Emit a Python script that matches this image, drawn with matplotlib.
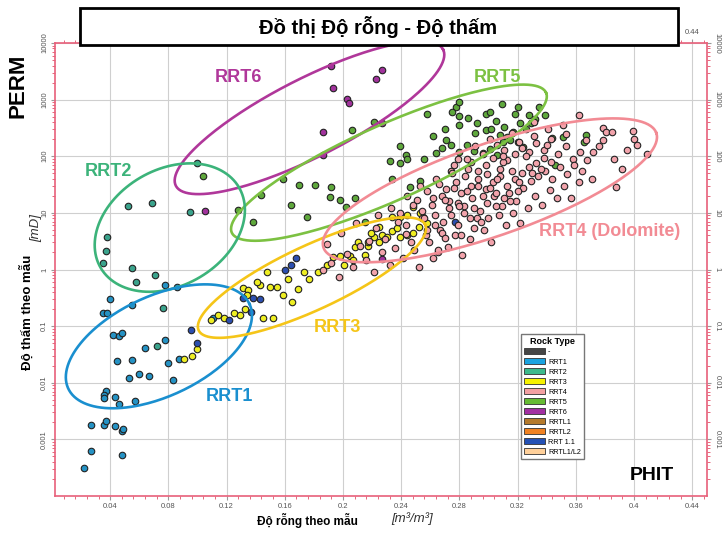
import numpy as np
import matplotlib
matplotlib.use("Agg")
import matplotlib.pyplot as plt
from matplotlib.patches import Patch, Rectangle
from matplotlib.ticker import AutoMinorLocator, LogLocator, NullFormatter

plt.rcParams['font.family'] = ['Liberation Sans', 'DejaVu Sans']

# ---- data (porosity fraction, permeability mD) ----
rrt1_phi = [0.040, 0.035, 0.038, 0.055, 0.042, 0.046, 0.048, 0.064, 0.078, 0.045, 0.055, 0.053,
            0.060, 0.067, 0.080, 0.087, 0.083, 0.037, 0.036, 0.036, 0.043, 0.046, 0.057, 0.027,
            0.036, 0.037, 0.043, 0.048, 0.049, 0.027, 0.048, 0.022, 0.111, 0.086, 0.078]
rrt1_k = [0.30, 0.17, 0.17, 0.24, 0.071, 0.066, 0.077, 0.041, 0.056, 0.024, 0.025, 0.012,
          0.014, 0.013, 0.022, 0.026, 0.011, 0.0071, 0.0062, 0.0053, 0.0057, 0.0042, 0.0047, 0.0018,
          0.0018, 0.0021, 0.0017, 0.0014, 0.0015, 0.00062, 0.00053, 0.00031, 0.14, 0.50, 0.54]

rrt2_phi = [0.055, 0.071, 0.058, 0.076, 0.072, 0.035, 0.038, 0.037, 0.052, 0.069, 0.100, 0.095]
rrt2_k = [1.08, 0.81, 0.59, 0.21, 0.044, 1.3, 3.7, 2.1, 13.4, 15, 77, 10.5]

rrt6_phi = [0.192, 0.193, 0.203, 0.204, 0.223, 0.227, 0.186, 0.186, 0.227, 0.227, 0.105]
rrt6_k = [3900, 1600, 1040, 880, 2300, 3400, 270, 107, 390, 1.56, 11]

rrt5_phi = [0.278, 0.280, 0.258, 0.275, 0.280, 0.280, 0.292, 0.298, 0.301, 0.309, 0.320, 0.335,
            0.298, 0.302, 0.308, 0.313, 0.317, 0.322, 0.328, 0.329, 0.339, 0.206, 0.221, 0.239,
            0.243, 0.239, 0.232, 0.256, 0.264, 0.268, 0.274, 0.280, 0.285, 0.290, 0.296, 0.301,
            0.306, 0.310, 0.315, 0.320, 0.324, 0.344, 0.351, 0.367, 0.366, 0.170, 0.181, 0.192,
            0.191, 0.198, 0.202, 0.208, 0.175, 0.253, 0.246, 0.234, 0.215, 0.346, 0.104, 0.244,
            0.128, 0.144, 0.159, 0.164, 0.138, 0.270, 0.286, 0.291, 0.305, 0.311, 0.318, 0.326,
            0.332, 0.262, 0.271]
rrt5_k = [750, 920, 560, 610, 520, 360, 390, 560, 610, 840, 750, 750,
          295, 305, 240, 220, 270, 390, 540, 390, 540, 295, 410, 150,
          107, 77, 83, 90, 116, 141, 160, 120, 160, 125, 115, 135,
          107, 180, 195, 175, 148, 210, 220, 240, 180, 31, 31, 29,
          19, 17, 12.9, 18, 8.3, 36, 29, 40, 7.0, 71, 45, 90,
          11.4, 21, 39, 14, 7.0, 300, 480, 260, 420, 330, 560, 300,
          460, 230, 190]

rrt3_phi = [0.091, 0.096, 0.100, 0.118, 0.125, 0.129, 0.133, 0.145, 0.152, 0.148, 0.143, 0.150,
            0.131, 0.135, 0.134, 0.141, 0.173, 0.177, 0.183, 0.189, 0.193, 0.198, 0.205, 0.207,
            0.201, 0.208, 0.215, 0.217, 0.221, 0.225, 0.227, 0.230, 0.234, 0.237, 0.239, 0.244,
            0.248, 0.252, 0.255, 0.258, 0.253, 0.248, 0.244, 0.239, 0.234, 0.225, 0.219, 0.217,
            0.210, 0.155, 0.159, 0.165, 0.109, 0.114, 0.162, 0.169]
rrt3_k = [0.026, 0.030, 0.040, 0.137, 0.17, 0.16, 0.20, 0.14, 0.14, 0.89, 0.54, 0.50,
          0.48, 0.43, 0.36, 0.59, 0.92, 0.67, 0.92, 1.22, 1.63, 1.7, 1.7, 1.5,
          1.22, 2.45, 1.84, 2.55, 3.7, 3.0, 4.1, 3.8, 4.7, 5.5, 3.8, 4.1,
          4.5, 5.7, 8.3, 6.7, 10.1, 12.9, 9.3, 8.6, 8.6, 5.7, 4.5, 3.0,
          3.0, 0.5, 0.35, 0.27, 0.13, 0.16, 0.67, 0.45]

rrt11_phi = [0.0955, 0.100, 0.122, 0.131, 0.138, 0.143, 0.137, 0.277, 0.164, 0.168, 0.160]
rrt11_k = [0.084, 0.05, 0.13, 0.31, 0.31, 0.30, 0.18, 7.0, 1.2, 1.6, 1.0]

rrt4_phi = [0.186, 0.192, 0.189, 0.197, 0.203, 0.199, 0.207, 0.212, 0.209, 0.216, 0.221, 0.218, 0.224,
            0.227, 0.223, 0.232, 0.229, 0.233, 0.236, 0.238, 0.241, 0.243, 0.239, 0.244, 0.247, 0.243,
            0.248, 0.252, 0.249, 0.254, 0.251, 0.253, 0.257, 0.254, 0.258, 0.262, 0.259, 0.263, 0.261,
            0.264, 0.267, 0.263, 0.268, 0.266, 0.272, 0.269, 0.273, 0.271, 0.274, 0.277, 0.273, 0.278,
            0.276, 0.282, 0.279, 0.283, 0.281, 0.284, 0.279, 0.287, 0.283, 0.288, 0.286, 0.292, 0.289,
            0.293, 0.288, 0.291, 0.297, 0.294, 0.298, 0.293, 0.296, 0.302, 0.299, 0.303, 0.298, 0.301,
            0.307, 0.304, 0.308, 0.303, 0.306, 0.312, 0.309, 0.313, 0.308, 0.311, 0.317, 0.314, 0.318,
            0.313, 0.316, 0.322, 0.319, 0.323, 0.318, 0.321, 0.327, 0.324, 0.328, 0.323, 0.332, 0.329,
            0.333, 0.328, 0.331, 0.337, 0.334, 0.338, 0.333, 0.342, 0.339, 0.343, 0.338, 0.347, 0.344,
            0.348, 0.343, 0.352, 0.349, 0.353, 0.357, 0.354, 0.358, 0.353, 0.362, 0.359, 0.363, 0.362,
            0.367, 0.364, 0.372, 0.368, 0.371, 0.376, 0.379, 0.379, 0.381, 0.385, 0.386, 0.388, 0.392,
            0.395, 0.399, 0.400, 0.402, 0.409, 0.351, 0.331, 0.341,
            0.256, 0.262, 0.268, 0.274, 0.279, 0.285, 0.290, 0.296, 0.301, 0.306, 0.311, 0.316, 0.321,
            0.258, 0.265, 0.270, 0.276, 0.281, 0.287, 0.293, 0.299, 0.305, 0.310, 0.315, 0.326, 0.336,
            0.270, 0.280, 0.290, 0.300, 0.310, 0.320, 0.330, 0.340, 0.275, 0.285, 0.295, 0.305, 0.265]
rrt4_k = [1.0, 1.3, 2.8, 0.75, 1.9, 4.5, 1.1, 2.6, 6.5, 1.5, 0.9, 3.2, 9,
          2.0, 5.5, 1.2, 3.5, 12, 2.4, 7, 1.6, 4.2, 10, 20, 3, 6,
          14, 1.1, 2.2, 8, 17, 30, 4, 11, 24, 1.6, 3, 6, 14,
          40, 5, 9, 20, 33, 2.5, 7, 12, 26, 55, 4, 16, 35,
          70, 1.8, 6, 10, 22, 45, 90, 3.5, 13, 30, 60, 8, 18,
          40, 80, 150, 5, 11, 26, 55, 110, 3, 15, 35, 70, 200,
          9, 20, 45, 95, 160, 6, 13, 30, 60, 130, 10, 22, 40,
          85, 260, 6.5, 16, 50, 110, 180, 12, 28, 65, 140, 20, 36,
          75, 120, 230, 14, 45, 95, 170, 25, 55, 80, 130, 18, 40,
          110, 200, 30, 65, 150, 18, 48, 90, 250, 35, 70, 120, 540,
          195, 55, 120, 85, 40, 150, 320, 195, 270, 270, 90, 29, 60,
          130, 280, 200, 160, 110, 350, 400, 300,
          8, 18, 4.5, 9, 15, 24, 12, 20, 28, 40, 18, 55, 35,
          5, 2, 17, 28, 4, 8, 30, 48, 22, 80, 16, 100, 60,
          3.6, 13, 5.5, 8, 100, 24, 50, 160, 50, 90, 7, 13, 2.2]

# ellipses: centre phi, centre perm, semi axes (px), angle (deg), colour
ell_names = ['RRT6', 'RRT5', 'RRT2', 'RRT1', 'RRT3', 'RRT4']
ell_phi = [0.177, 0.2316, 0.081, 0.0735, 0.1787, 0.301]
ell_k = [480, 77, 5.5, 0.044, 0.72, 25]
ell_a = [150, 172, 80, 100, 125, 176]
ell_b = [39, 38, 58, 50, 32, 46]
ell_ang = [27, 24, 30, 25, 25, 19]
ell_col = ['#b0379a', '#7cc142', '#3cb37a', '#1a8fcf', '#f5c518', '#f28b94']

lab_text = ['RRT6', 'RRT5', 'RRT2', 'RRT1', 'RRT3', 'RRT4 (Dolomite)']
lab_phi = [0.128, 0.306, 0.0385, 0.122, 0.196, 0.3835]
lab_k = [2450, 2450, 53, 0.0058, 0.095, 4.7]

legend_names = ['-', 'RRT1', 'RRT2', 'RRT3', 'RRT4', 'RRT5', 'RRT6', 'RRTL1', 'RRTL2',
                'RRT 1.1', 'RRTL1/L2']
legend_cols = ['#454545', '#1aa3e0', '#3dba8c', '#f6f200', '#f3a0a2', '#66bb33', '#a22fa2',
               '#b57a2c', '#f08222', '#2451b5', '#ffd09a']

xticks = [0.04, 0.08, 0.12, 0.16, 0.2, 0.24, 0.28, 0.32, 0.36, 0.4, 0.44]
yticks = [0.001, 0.01, 0.1, 1, 10, 100, 1000, 10000]

fig = plt.figure(figsize=(7.22, 5.33), dpi=100)
ax = fig.add_axes([55 / 722, 37 / 533, 652 / 722, 453 / 533])
ax.set_xlim(0.0021, 0.4502)
ax.set_yscale('log')
ax.set_ylim(1e-4, 1e4)

ax.set_xticks(xticks)
ax.set_xticklabels([f'{v:g}' for v in xticks])
ax.set_yticks(yticks)
ax.set_yticklabels([f'{v:g}' for v in yticks])
ax.xaxis.set_minor_locator(AutoMinorLocator(5))
ax.yaxis.set_minor_locator(LogLocator(base=10, subs=np.arange(2, 10)))
ax.yaxis.set_minor_formatter(NullFormatter())
ax.grid(True, which='major', color='#cfcfcf', lw=0.8, zorder=0)
ax.set_axisbelow(True)

ax.tick_params(which='both', top=True, right=True, labeltop=True, labelright=True,
               labelsize=5.5, labelcolor='#555555', direction='out')
ax.tick_params(which='major', length=3, color='#999999', pad=2)
ax.tick_params(which='minor', length=2, color='#e05068')
for t in ax.yaxis.get_major_ticks():
    t.label1.set_rotation(90)
    t.label1.set_va('center')
    t.label2.set_rotation(270)
    t.label2.set_va('center')
# top labels sit under the title box, only the last one peeks out
for t in ax.xaxis.get_major_ticks()[:-1]:
    t.label2.set_visible(False)
for s in ax.spines.values():
    s.set_color('#e8607a')
    s.set_linewidth(1.2)

kw = dict(edgecolors='#222222', linewidths=0.8, s=22, zorder=3)
ax.scatter(rrt1_phi, rrt1_k, c='#2592c4', **kw)
ax.scatter(rrt2_phi, rrt2_k, c='#3aa38c', **kw)
ax.scatter(rrt6_phi, rrt6_k, c='#a1329c', **kw)
ax.scatter(rrt5_phi, rrt5_k, c='#5fa83c', **kw)
ax.scatter(rrt3_phi, rrt3_k, c='#eeee22', **kw)
ax.scatter(rrt11_phi, rrt11_k, c='#2c4fb0', **kw)
ax.scatter(rrt4_phi, rrt4_k, c='#f2a3ab', **kw)

# ellipses drawn in screen space so they look like the hand drawn rings
tt = np.linspace(0, 2 * np.pi, 240)
for i in range(len(ell_names)):
    cx, cy = ax.transData.transform((ell_phi[i], ell_k[i]))
    th = np.deg2rad(ell_ang[i])
    u = ell_a[i] * np.cos(tt)
    v = ell_b[i] * np.sin(tt)
    xs = cx + u * np.cos(th) - v * np.sin(th)
    ys = cy + u * np.sin(th) + v * np.cos(th)
    pts = ax.transData.inverted().transform(np.column_stack([xs, ys]))
    ax.plot(pts[:, 0], pts[:, 1], color=ell_col[i], lw=1.9, zorder=4)

for i in range(len(lab_text)):
    ax.text(lab_phi[i], lab_k[i], lab_text[i], color=ell_col[i], fontsize=13,
            fontweight='bold', ha='center', va='center', zorder=5)

handles = [Patch(facecolor=c, edgecolor='#333333', lw=0.6) for c in legend_cols]
leg = ax.legend(handles, legend_names, title='Rock Type', loc='upper left',
                bbox_to_anchor=((517 - 55) / 652, (496 - 330) / 453), fontsize=5.2,
                title_fontproperties={'weight': 'bold', 'size': 6.5},
                handlelength=3.0, handleheight=1.0, labelspacing=0.32, handletextpad=0.4,
                borderpad=0.4, fancybox=False, edgecolor='#777777', framealpha=1)
leg.set_zorder(6)

ax.text(0.915, 0.045, 'PHIT', transform=ax.transAxes, fontsize=14, fontweight='bold',
        ha='center', va='center')

fig.text(18 / 722, 1 - 86 / 533, 'PERM', rotation=90, fontsize=16, fontweight='bold',
         ha='center', va='center')
fig.text(27 / 722, 1 - 312 / 533, 'Độ thấm theo mẫu', rotation=90, fontsize=9.5,
         fontweight='bold', ha='center', va='center')
fig.text(36 / 722, 1 - 228 / 533, '[mD]', rotation=90, fontsize=9.5, style='italic',
         ha='center', va='center', color='#333333')
fig.text(307 / 722, 1 - 521 / 533, 'Độ rỗng theo mẫu', fontsize=8.5, fontweight='bold',
         ha='center', va='center')
fig.text(412 / 722, 1 - 519 / 533, '[m³/m³]', fontsize=9.5, style='italic',
         ha='center', va='center', color='#333333')

box = Rectangle((80 / 722, 1 - 45 / 533), 598 / 722, 37 / 533, transform=fig.transFigure,
                facecolor='white', edgecolor='black', lw=2, zorder=10)
fig.patches.append(box)
fig.text(378 / 722, 1 - 27 / 533, 'Đồ thị Độ rỗng - Độ thấm', fontsize=14.5,
         fontweight='bold', ha='center', va='center', zorder=11)

fig.savefig('out.png', dpi=100)
